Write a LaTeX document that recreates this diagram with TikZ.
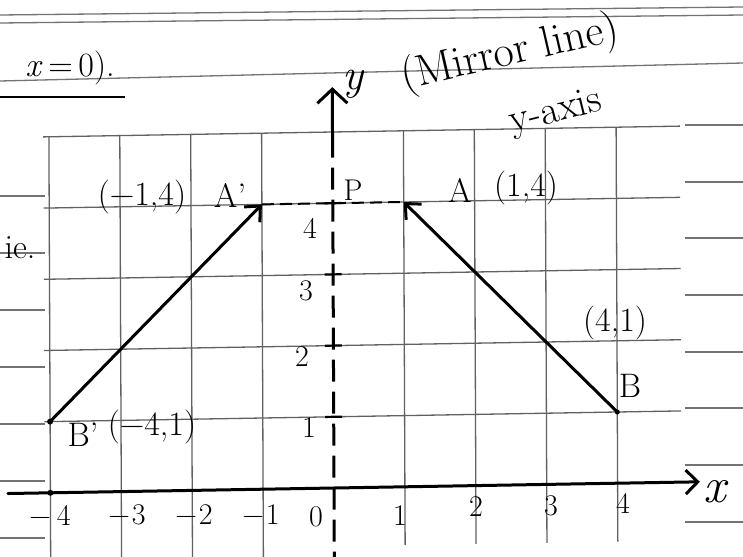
\documentclass[tikz,border=0pt]{standalone}
\usetikzlibrary{arrows.meta}
\tikzset{
  gridline/.style={draw=black!62, line width=1.3pt},
  ruled/.style={draw=black!55, line width=1.3pt},
  ink/.style={draw=black, line width=3pt, line cap=round},
  lbl/.style={inner sep=0pt, font=\fontsize{34}{36}\selectfont},
  num/.style={inner sep=0pt, font=\fontsize{30}{32}\selectfont},
  big/.style={inner sep=0pt, font=\fontsize{44}{46}\selectfont},
  barb/.style={-{Straight Barb[length=12pt,width=22pt]}},
}
\begin{document}
\begin{tikzpicture}[x=1pt,y=-1pt]
\useasboundingbox (0,0) rectangle (743,556);
\fill[white] (0,0) rectangle (743,556);

% notebook ruling
\draw[ruled] (0,15) -- (743,7);
\draw[ruled] (0,23) -- (743,15);
\draw[ruled] (0,81) -- (743,63);
\foreach \yy in {196,253,310,367,424,481,538} \draw[ruled] (0,\yy) -- (45,\yy);
\foreach \yy in {125,182,238,295,352,408,465,522} \draw[ruled] (685,\yy) -- (743,\yy);

% graph
\begin{scope}[shift={(334,488)}, x={(70.9pt,1.2pt)}, y={(-0.3pt,71.2pt)}]
  \foreach \yy in {1,...,5} \draw[gridline] (-4.08,\yy) -- (4.9,\yy);
  \foreach \xx in {-4,...,-1} \draw[gridline] (\xx,5) -- (\xx,-1.05);
  \foreach \xx in {1,...,4} \draw[gridline] (\xx,5) -- (\xx,-0.82);

  \coordinate (O) at (0,0);
  \coordinate (ybot) at (0,-1.05);
  \coordinate (ymid) at (0,4.95);
  \coordinate (ytop) at (0,5.63);
  \coordinate (xl) at (-4.6,0);
  \coordinate (xr) at (5.16,0);
  \coordinate (Ap) at (-1,4);
  \coordinate (A) at (1,4);
  \coordinate (B) at (4,1);
  \coordinate (Bp) at (-4,1);
  \coordinate (m4) at (-4,0);

  % y axis (mirror line)
  \draw[ink, -{Straight Barb[length=14pt,width=30pt]}] (ymid) -- (ytop);
  \draw[ink, line cap=butt, dash pattern=on 22pt off 10pt] (ymid) -- (ybot);
  \foreach \yy in {1,2,3,4} \draw[black, line width=2.2pt] (-0.12,\yy) -- (0.12,\yy);

  % x axis
  \draw[ink, -{Straight Barb[length=12pt,width=24pt]}] (xl) -- (xr);
  \fill (m4) circle (3pt);

  % segments
  \draw[black, line width=2pt, dash pattern=on 12pt off 6pt] (Ap) -- (A);
  \draw[ink, barb] (Bp) -- (Ap);
  \draw[ink, barb] (B) -- (A);
  \fill (Bp) circle (3pt);
  \fill (B) circle (2.5pt);
\end{scope}

% labels
\node[lbl] (t0) at (70,68) {\textit{x}\,=\,0).};
\draw[black, line width=2.5pt] (0,97) -- (125,97);
\node[lbl] (t1) at (20,248) {ie.};

\node[big] (ylab) at (354,84) {\textit{y}};
\node[big, rotate=13] (mir) at (510,54) {(Mirror line)};
\node[inner sep=0pt, font=\fontsize{40}{42}\selectfont, rotate=14] (yax) at (556,113) {y-axis};

\node[lbl] (lAp) at (142,197) {(−1,4)};
\node[lbl] (nAp) at (230,195) {A'};
\node[num] (nP) at (353,190) {P};
\node[lbl] (nA) at (460,190) {A};
\node[lbl] (lA) at (526,188) {(1,4)};
\node[lbl] (lB) at (615,323) {(4,1)};
\node[lbl] (nB) at (630,386) {B};
\node[lbl] (nBp) at (83,435) {B'};
\node[lbl] (lBp) at (152,427) {(−4,1)};

\node[num] (y4) at (310,228) {4};
\node[num] (y3) at (306,291) {3};
\node[num] (y2) at (302,357) {2};
\node[num] (y1) at (309,428) {1};

\node[num] (xm4) at (50,515) {−\hspace{6pt}4};
\node[num] (xm3) at (127,515) {−\hspace{2pt}3};
\node[num] (xm2) at (194,515) {−\hspace{2pt}2};
\node[num] (xm1) at (261,515) {−\hspace{2pt}1};
\node[num] (x0) at (316,517) {0};
\node[num] (x1) at (400,516) {1};
\node[num] (x2) at (476,507) {2};
\node[num] (x3) at (551,506) {3};
\node[num] (x4) at (623,503) {4};
\node[inner sep=0pt, font=\fontsize{50}{52}\selectfont] (xlab) at (716,492) {\textit{x}};
\end{tikzpicture}
\end{document}
